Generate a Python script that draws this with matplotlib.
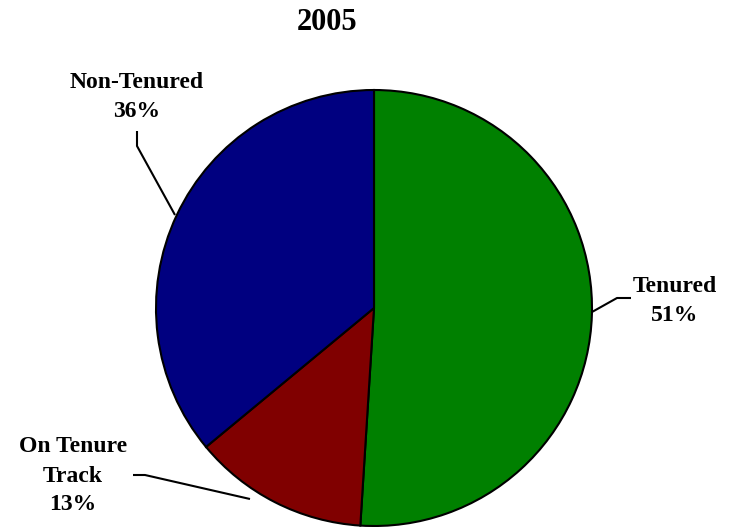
import matplotlib
matplotlib.use("Agg")
import matplotlib.pyplot as plt

title = "2005"
categories = ["Tenured", "On Tenure\nTrack", "Non-Tenured"]
values = [51, 13, 36]
colors = ["#008000", "#800000", "#000080"]

W, H = 730, 527
CX, CY, R = 374, 308, 218  # pixel layout of pie

fig = plt.figure(figsize=(W / 100, H / 100), dpi=100)
ax = fig.add_axes([0, 0, 1, 1])

ax.pie(values, colors=colors, startangle=90, counterclock=False, radius=1,
       wedgeprops=dict(edgecolor="black", linewidth=1.5))
ax.set_aspect("auto")
ax.set_xlim(-CX / R, (W - CX) / R)
ax.set_ylim(-(H - CY) / R, CY / R)
ax.axis("off")


def p(x, y):
    return ((x - CX) / R, (CY - y) / R)


font = dict(family="Liberation Serif", fontweight="bold")

fig.text(327 / W, 1 - 22 / H, title, ha="center", va="center", fontsize=22, **font)

# label positions (pixels) and leader lines
label_pos = [(675, 301), (73, 476), (137, 97)]
leaders = [
    [(631, 298), (617, 298), (592, 312)],
    [(133, 475), (145, 475), (250, 499)],
    [(137, 131), (137, 146), (175, 215)],
]
for cat, v, (lx, ly), pts in zip(categories, values, label_pos, leaders):
    x, y = p(lx, ly)
    ax.text(x, y, f"{cat}\n{v}%", ha="center", va="center", fontsize=17,
            linespacing=1.5, **font)
    xs, ys = zip(*[p(a, b) for a, b in pts])
    ax.plot(xs, ys, color="black", lw=1.5, solid_capstyle="butt")

fig.savefig("out.png", dpi=100)
